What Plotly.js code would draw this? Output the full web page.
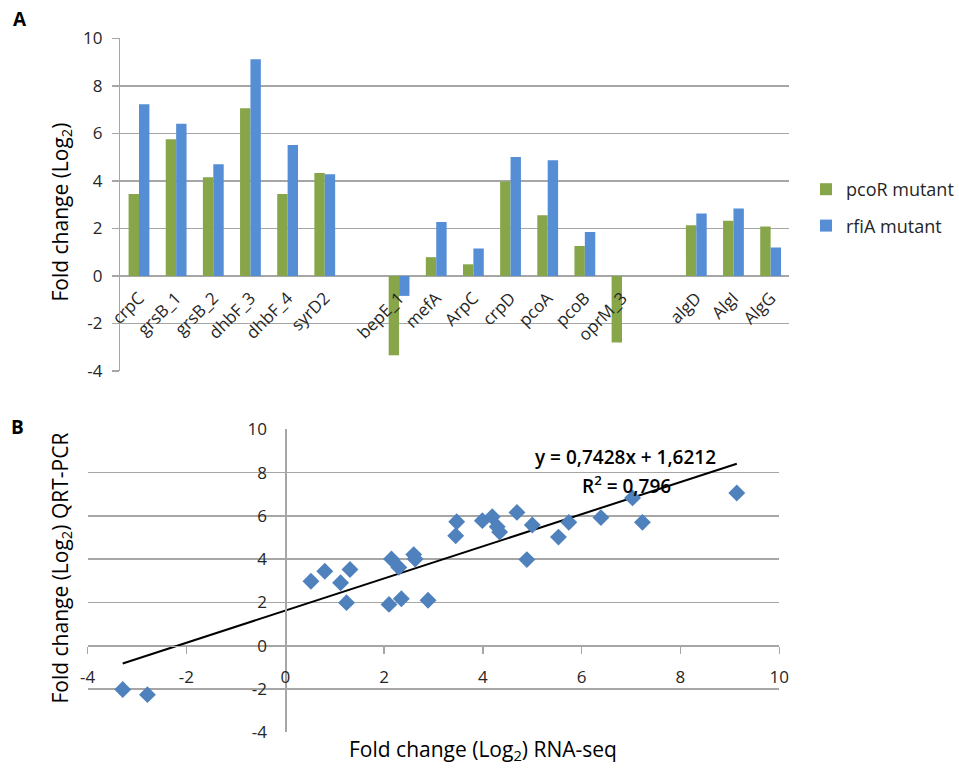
<!DOCTYPE html>
<html>
<head>
<meta charset="utf-8">
<script src="https://cdn.plot.ly/plotly-3.0.1.min.js"></script>
<style>html,body{margin:0;padding:0;background:#fff}#chart{width:959px;height:768px}</style>
</head>
<body>
<div id="chart"></div>
<script>
// Panel A data (gap slots are blank categories)
const genes = ['crpC','grsB_1','grsB_2','dhbF_3','dhbF_4','syrD2',' ','bepE_1','mefA','ArpC','crpD','pcoA','pcoB','oprM_3','  ','algD','AlgI','AlgG'];
const pcoR = [3.45,5.75,4.15,7.06,3.45,4.33,null,-3.34,0.79,0.49,3.97,2.55,1.26,-2.80,null,2.13,2.32,2.08];
const rfiA = [7.23,6.40,4.70,9.12,5.51,4.28,null,-0.84,2.27,1.15,5.00,4.87,1.85,null,null,2.63,2.84,1.20];
const seriesNames = ['pcoR mutant','rfiA mutant'];

// Panel B data
const rnaSeq = [-3.29,-2.79,0.52,0.80,1.12,1.31,1.24,2.10,2.15,2.30,2.35,2.60,2.63,2.89,3.47,3.45,3.99,4.19,4.29,4.34,4.69,4.89,5.00,5.53,5.74,6.39,7.03,7.23,9.14];
const qrtPcr = [-2.02,-2.26,2.98,3.44,2.91,3.52,1.99,1.91,4.01,3.62,2.17,4.21,4.01,2.10,5.73,5.08,5.78,5.96,5.50,5.25,6.16,3.98,5.58,5.02,5.70,5.92,6.83,5.70,7.06];
const slope = 0.7428, intercept = 1.6212, rSquared = '0,796';
const axisTicks = [-4,-2,0,2,4,6,8,10];
const axisTickText = ['-4','-2','0','2','4','6','8','10'];

const W = 959, H = 768;
const px = v => v / W, py = v => 1 - v / H;
const FONT = 'Open Sans, Lato, sans-serif';
const GRID = '#a6a6a6';
const TXT = '#262626';

const yA = [py(371), py(38.3)];
const xA = [px(121.3), px(795)];
const xB = [px(88.3), px(785)];
const yB = [py(732.3), py(429.3)];
const frac = (lo, hi, v, d) => d[0] + (v - lo) / (hi - lo) * (d[1] - d[0]);

const xmin = Math.min(...rnaSeq), xmax = Math.max(...rnaSeq);
const geneTicks = genes.filter(g => g.trim() !== '');

const traces = [
  {type:'bar', x: genes, y: pcoR, name: seriesNames[0], marker:{color:'#87a64a'}, xaxis:'x', yaxis:'y', legendgroup:'a'},
  {type:'bar', x: genes, y: rfiA, name: seriesNames[1], marker:{color:'#558ed5'}, xaxis:'x', yaxis:'y', legendgroup:'b'},
  {type:'scatter', mode:'lines', x:[xmin, xmax], y:[slope*xmin+intercept, slope*xmax+intercept], line:{color:'#000', width:2}, xaxis:'x2', yaxis:'y2', showlegend:false, hoverinfo:'skip'},
  {type:'scatter', mode:'markers', x: rnaSeq, y: qrtPcr, marker:{symbol:'diamond', size:13, color:'#4f81bd'}, xaxis:'x2', yaxis:'y2', showlegend:false}
];

const ann = (x, y, text, size, opts) => Object.assign({xref:'paper', yref:'paper', x: px(x), y: py(y), text, showarrow:false, xanchor:'center', yanchor:'middle', font:{family:FONT, size, color:'#000'}}, opts || {});

const layout = {
  width: W, height: H,
  margin:{l:0, r:0, t:0, b:0},
  paper_bgcolor:'#fff', plot_bgcolor:'rgba(0,0,0,0)',
  font:{family:FONT, color:TXT},
  barmode:'group', bargap:0.44, bargroupgap:0,
  showlegend:true,
  legend:{x: px(812), y: py(171), xanchor:'left', yanchor:'top', font:{family:FONT, size:18, color:TXT}, tracegroupgap:10, bgcolor:'rgba(0,0,0,0)'},
  xaxis:{domain:xA, type:'category', range:[-0.5, genes.length-0.5], anchor:'free', position: frac(-4,10,0,yA),
    tickmode:'array', tickvals:geneTicks, ticktext:geneTicks,
    tickangle:-45, showgrid:false, zeroline:false, showline:false, ticks:'', tickfont:{size:17, color:TXT}, ticklabelstandoff:8, fixedrange:true},
  yaxis:{domain:yA, range:[-4,10], tickmode:'array', tickvals:axisTicks, ticktext:axisTickText, showgrid:true, gridcolor:GRID, gridwidth:1.5, zeroline:false,
    showline:true, linecolor:GRID, linewidth:1.5, ticks:'outside', ticklen:7, tickcolor:GRID, tickwidth:1.5,
    tickfont:{size:17, color:TXT}, ticklabelstandoff:6, anchor:'x'},
  xaxis2:{domain:xB, range:[-4,10], tickmode:'array', tickvals:axisTicks, ticktext:axisTickText, anchor:'free', position: frac(-4,10,0,yB),
    showgrid:false, zeroline:false, showline:true, linecolor:GRID, linewidth:1.5, ticks:'outside', ticklen:7, tickcolor:GRID, tickwidth:1.5,
    tickfont:{size:17, color:TXT}, ticklabelstandoff:8},
  yaxis2:{domain:yB, range:[-4,10], tickmode:'array', tickvals:axisTicks, ticktext:axisTickText, anchor:'free', position: frac(-4,10,0,xB),
    showgrid:true, gridcolor:GRID, gridwidth:1.5, zeroline:false, showline:true, linecolor:GRID, linewidth:1.5, ticks:'',
    tickfont:{size:17, color:TXT}, ticklabelstandoff:15},
  annotations:[
    ann(20, 19, '<b>A</b>', 19),
    ann(18, 427, '<b>B</b>', 19),
    ann(61, 212, 'Fold change (Log<sub>2</sub>)', 21, {textangle:-90}),
    ann(61, 568, 'Fold change (Log<sub>2</sub>) QRT-PCR', 21, {textangle:-90}),
    ann(487, 750, 'Fold change (Log<sub>2</sub>) RNA-seq', 21),
    ann(630, 457, 'y = ' + String(slope).replace('.', ',') + 'x + ' + String(intercept).replace('.', ','), 19, {font:{family:FONT, size:19, color:'#000', weight:600}}),
    ann(631, 485, 'R<sup>2</sup> = ' + rSquared, 19, {font:{family:FONT, size:19, color:'#000', weight:600}})
  ]
};

Plotly.newPlot('chart', traces, layout, {displayModeBar:false, staticPlot:true});
</script>
</body>
</html>
